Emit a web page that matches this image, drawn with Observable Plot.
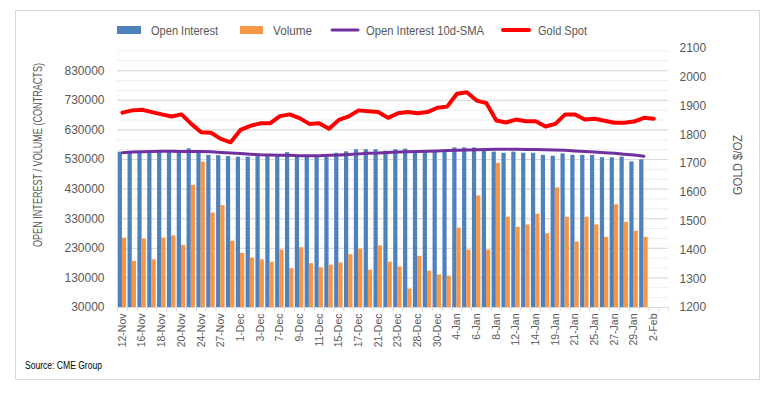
<!DOCTYPE html>
<html>
<head>
<meta charset="utf-8">
<script src="https://cdn.jsdelivr.net/npm/d3@7"></script>
<script src="https://cdn.jsdelivr.net/npm/@observablehq/plot@0.6"></script>
<style>
  html, body { margin: 0; padding: 0; background: #ffffff; }
  #wrap { position: relative; width: 782px; height: 393px; overflow: hidden; }
  #wrap > svg { position: absolute; left: 0; top: 0; }
  #overlay { pointer-events: none; }
</style>
</head>
<body>
<div id="wrap"></div>
<script>
// ---- data ----
const dates = ["12-Nov","13-Nov","16-Nov","17-Nov","18-Nov","19-Nov","20-Nov","23-Nov","24-Nov","25-Nov","27-Nov","30-Nov",
  "1-Dec","2-Dec","3-Dec","4-Dec","7-Dec","8-Dec","9-Dec","10-Dec","11-Dec","14-Dec","15-Dec","16-Dec","17-Dec","18-Dec",
  "21-Dec","22-Dec","23-Dec","24-Dec","28-Dec","29-Dec","30-Dec","31-Dec","4-Jan","5-Jan","6-Jan","7-Jan","8-Jan","11-Jan",
  "12-Jan","13-Jan","14-Jan","15-Jan","19-Jan","20-Jan","21-Jan","22-Jan","25-Jan","26-Jan","27-Jan","28-Jan","29-Jan","1-Feb","2-Feb",""];
const openInterest = [555000,551000,553000,554000,557000,554000,553000,566000,551000,544000,543000,540000,538000,538000,541000,541000,
  543000,553000,540000,538000,540000,538000,551000,556000,563000,563000,563000,558000,563000,565000,556000,556000,558000,558000,
  569000,569000,569000,566000,555000,551000,555000,551000,551000,544000,541000,549000,544000,544000,544000,536000,536000,538000,522000,529000];
const volume = [264000,186000,261000,191000,264000,272000,240000,443000,521000,349000,374000,254000,213000,197000,191000,183000,
  224000,161000,232000,178000,164000,173000,181000,208000,227000,156000,238000,183000,167000,92000,203000,153000,140000,136000,
  298000,224000,407000,224000,517000,335000,301000,309000,345000,279000,434000,335000,251000,335000,309000,267000,377000,318000,288000,267000];
const oiSMA = [553000,555000,556000,557000,558000,558000,557000,557000,557000,556000,554000,552000,550000,548000,546000,545000,
  544000,544000,543000,543000,543000,544000,545000,547000,549000,551000,552000,554000,555000,556000,557000,558000,559000,560000,
  561000,562000,563000,564000,565000,565000,565000,564000,564000,563000,562000,561000,559000,557000,555000,553000,551000,548000,545000,541000];
const goldSpot = [1877,1885,1887,1879,1871,1864,1871,1838,1809,1807,1786,1774,1817,1831,1840,1840,1865,1871,1858,1838,1840,1821,
  1852,1864,1885,1882,1879,1859,1875,1879,1875,1879,1894,1898,1943,1948,1919,1910,1850,1843,1853,1847,1847,1829,1838,1871,1871,
  1853,1856,1849,1842,1842,1846,1859,1856];
const leftTicks = [30000,130000,230000,330000,430000,530000,630000,730000,830000];
const rightTicks = [1200,1300,1400,1500,1600,1700,1800,1900,2000,2100];
const leftDomain = [30000, 905000];
const rightDomain = [1200, 2100];
const xLabels = dates.filter((d, i) => i % 2 === 0 && d !== "");

// ---- helpers ----
const toLeft = g => leftDomain[0] + (g - rightDomain[0]) / (rightDomain[1] - rightDomain[0]) * (leftDomain[1] - leftDomain[0]);
const fromLeft = v => rightDomain[0] + (v - leftDomain[0]) / (leftDomain[1] - leftDomain[0]) * (rightDomain[1] - rightDomain[0]);
const bars = openInterest.map((v, i) => ({date: dates[i], oi: v, vol: volume[i], sma: oiSMA[i]}));
const goldRows = goldSpot.map((g, i) => ({date: dates[i], gold: g}));
const minorTicks = d3.range(leftDomain[0], leftDomain[1], 100000 / 3);

const W = 782, H = 393, mL = 117, mR = 114, mT = 48, mB = 86;
const step = (W - mL - mR) / dates.length;
const grey = "#595959";

const chart = Plot.plot({
  width: W, height: H,
  marginLeft: mL, marginRight: mR, marginTop: mT, marginBottom: mB,
  style: {fontFamily: "'Liberation Sans', Arial, sans-serif", fontSize: "12px", color: grey, background: "transparent", overflow: "visible"},
  x: {type: "band", domain: dates, padding: 0, axis: null},
  y: {domain: leftDomain, axis: null},
  marks: [
    Plot.ruleY(minorTicks, {stroke: "#eeeeee", strokeWidth: 1}),
    Plot.ruleY(leftTicks, {stroke: "#d9d9d9", strokeWidth: 1}),
    Plot.barY(bars, {x: "date", y1: leftDomain[0], y2: "oi", fill: "#4f81bd", insetLeft: 0.7, insetRight: 4.9}),
    Plot.barY(bars, {x: "date", y1: leftDomain[0], y2: "vol", fill: "#f79646", insetLeft: 4.9, insetRight: 0.7}),
    Plot.ruleX(dates, {x: d => d, dx: -step / 2, y1: leftDomain[0] - 14000, y2: leftDomain[0], stroke: "#d9d9d9"}),
    Plot.ruleX([dates[dates.length - 1]], {x: d => d, dx: step / 2, y1: leftDomain[0] - 14000, y2: leftDomain[0], stroke: "#d9d9d9"}),
    Plot.line(bars, {x: "date", y: "sma", stroke: "#7030a0", strokeWidth: 3, strokeLinejoin: "round", strokeLinecap: "round"}),
    Plot.line(goldRows, {x: "date", y: d => toLeft(d.gold), stroke: "#ff0000", strokeWidth: 4, strokeLinejoin: "round", strokeLinecap: "round"}),
    Plot.axisY({anchor: "left", ticks: leftTicks, tickFormat: d => String(d), tickSize: 0, tickPadding: 13, label: null, fill: grey, fontSize: 12}),
    Plot.axisY({anchor: "right", ticks: rightTicks.map(toLeft), tickFormat: v => String(Math.round(fromLeft(v))), tickSize: 0, tickPadding: 11, label: null, fill: grey, fontSize: 12}),
    Plot.axisX({ticks: xLabels, tickRotate: -90, tickSize: 0, tickPadding: 6, label: null, fill: grey, fontSize: 10.5})
  ]
});
document.getElementById("wrap").appendChild(chart);

// ---- overlay: frame, legend, axis titles, source ----
const ov = d3.select("#wrap").append("svg").attr("id", "overlay")
  .attr("width", W).attr("height", H)
  .style("font-family", "'Liberation Sans', Arial, sans-serif");
ov.append("rect").attr("x", 15.5).attr("y", 10.5).attr("width", 744).attr("height", 369)
  .attr("fill", "none").attr("stroke", "#d9d9d9");

const legendItems = [
  {label: "Open Interest", kind: "rect", color: "#4f81bd", x0: 117, x1: 141, tx: 151, tw: 67},
  {label: "Volume", kind: "rect", color: "#f79646", x0: 240, x1: 263, tx: 273, tw: 39},
  {label: "Open Interest 10d-SMA", kind: "line", color: "#7030a0", x0: 332, x1: 358, tx: 366, tw: 118, sw: 3},
  {label: "Gold Spot", kind: "line", color: "#ff0000", x0: 503, x1: 529, tx: 538, tw: 49, sw: 4}
];
const ly = 30;
for (const it of legendItems) {
  if (it.kind === "rect") {
    ov.append("rect").attr("x", it.x0).attr("y", ly - 4).attr("width", it.x1 - it.x0).attr("height", 8).attr("fill", it.color);
  } else {
    ov.append("line").attr("x1", it.x0).attr("x2", it.x1).attr("y1", ly).attr("y2", ly)
      .attr("stroke", it.color).attr("stroke-width", it.sw).attr("stroke-linecap", "round");
  }
  ov.append("text").attr("x", it.tx).attr("y", ly + 4.5).attr("fill", grey).attr("font-size", 13)
    .attr("textLength", it.tw).attr("lengthAdjust", "spacingAndGlyphs").text(it.label);
}

ov.append("text").attr("transform", "translate(42,155) rotate(-90)").attr("text-anchor", "middle")
  .attr("fill", grey).attr("font-size", 12).attr("textLength", 184).attr("lengthAdjust", "spacingAndGlyphs")
  .text("OPEN INTEREST / VOLUME (CONTRACTS)");
ov.append("text").attr("transform", "translate(742,165) rotate(-90)").attr("text-anchor", "middle")
  .attr("fill", grey).attr("font-size", 12).attr("textLength", 60).attr("lengthAdjust", "spacingAndGlyphs")
  .text("GOLD $/OZ");
ov.append("text").attr("x", 25).attr("y", 368.5).attr("fill", "#000000").attr("font-size", 10)
  .attr("textLength", 77).attr("lengthAdjust", "spacingAndGlyphs").text("Source: CME Group");
</script>
</body>
</html>
